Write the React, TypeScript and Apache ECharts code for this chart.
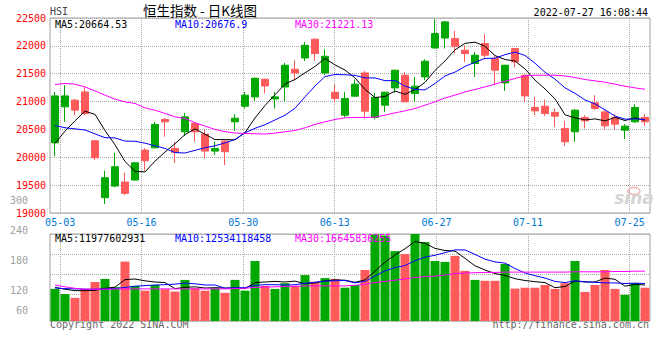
import React, { useEffect, useRef } from 'react';
import * as echarts from 'echarts';

const dates = ['04-29','05-03','05-04','05-05','05-06','05-10','05-11','05-12','05-13','05-16','05-17','05-18','05-19','05-20','05-23','05-24','05-25','05-26','05-27','05-30','05-31','06-01','06-02','06-06','06-07','06-08','06-09','06-10','06-13','06-14','06-15','06-16','06-17','06-20','06-21','06-22','06-23','06-24','06-27','06-28','06-29','06-30','07-04','07-05','07-06','07-07','07-08','07-11','07-12','07-13','07-14','07-15','07-18','07-19','07-20','07-21','07-22','07-25','07-26','07-27'];

const opens = [20260,20905,21025,21174,20296,19274,19484,19555,19591,20129,20170,20679,20159,20457,20607,20416,20111,20290,20636,20917,21084,21401,21048,21263,21580,21783,22118,21514,21168,20756,21097,21514,20715,20935,21245,21473,21145,21443,21962,22141,22130,21921,21683,22041,21772,21335,21951,21473,20894,20917,20805,20518,20457,20715,20977,20815,20715,20487,20636,20715];
const closes = [21102,21102,20846,20787,19991,19633,19830,19353,19901,19937,20590,20636,20088,20726,20457,20111,20159,20099,20702,21114,21419,21281,21084,21652,21514,22010,21862,21813,21055,21055,21312,20828,21073,21168,21563,20995,21276,21724,22220,22430,21992,21862,21832,21832,21563,21652,21711,21102,20833,20787,20738,20278,20846,20654,20876,20564,20595,20559,20894,20636];
const lows = [20021,20636,20756,20756,19950,19161,19461,19323,19591,19758,20160,20367,19901,20380,20278,19980,20039,19860,20475,20876,21012,21145,20876,21012,21383,21729,21729,21473,20977,20715,21090,20697,20679,20815,21156,20990,20995,21383,21950,21951,21862,21711,21443,21790,21294,21192,21611,20995,20756,20738,20547,20201,20278,20518,20846,20505,20487,20326,20618,20559];
const highs = [21174,21294,21048,21263,20308,19758,20081,19722,19914,20165,20636,20708,20278,20797,20636,20500,20278,20300,20774,21174,21430,21410,21174,21693,21742,22070,22136,21939,21312,21174,21396,21550,21156,21175,21570,21527,21443,21760,22480,22445,22270,22010,21891,22208,21832,21660,21960,21480,21084,21037,20876,20654,20864,20756,21115,20846,20774,20595,20953,20774];

const ma5 = [20250,20469,20656,20826,20771,20479,20224,19926,19747,19737,19931,20095,20243,20407,20511,20413,20318,20317,20313,20444,20705,20929,21123,21314,21396,21516,21630,21775,21658,21565,21424,21219,21073,21092,21190,21130,21216,21345,21558,21730,21928,22045,22067,21992,21825,21755,21728,21587,21385,21227,21049,20763,20708,20671,20689,20654,20716,20660,20709,20665];
const ma10 = [20570,20530,20510,20490,20420,20351,20347,20291,20287,20254,20205,20160,20085,20077,20124,20172,20207,20258,20320,20440,20520,20585,20670,20755,20880,21085,21280,21449,21486,21481,21470,21425,21424,21375,21378,21277,21218,21209,21325,21460,21529,21631,21706,21775,21778,21842,21887,21827,21689,21526,21402,21246,21148,21028,20958,20852,20740,20684,20690,20677];
const ma30 = [21306,21324,21312,21263,21192,21115,21043,20995,20966,20887,20846,20787,20726,20697,20620,20560,20500,20460,20435,20428,20422,20416,20434,20457,20482,20529,20590,20636,20679,20708,20715,20715,20720,20756,20797,20833,20876,20935,20995,21066,21115,21174,21217,21263,21312,21365,21414,21460,21473,21473,21473,21460,21432,21396,21371,21348,21312,21275,21245,21221];

// volume in units of 1e8 shares
const volumes = [107,90,77,107,130,140,113,198,117,101,120,106,98,137,109,101,109,94,137,101,200,117,107,126,117,153,131,143,140,111,120,170,288,285,233,223,290,263,200,197,217,167,137,134,134,190,108,111,111,120,107,126,200,97,120,170,107,87,127,111];
const volMa5 = [112,106,101,101,102,109,113,138,140,134,130,128,108,112,114,110,111,110,110,108,128,130,132,130,133,124,127,134,137,136,129,137,166,196,220,241,265,259,242,235,233,209,184,170,158,152,141,135,131,128,111,115,133,130,130,143,139,116,122,120];
const volMa10 = [110,108,107,106,106,107,108,112,116,118,120,121,123,126,124,120,120,109,111,111,119,121,121,120,121,126,129,133,134,135,127,132,150,167,178,185,201,213,219,228,237,237,222,206,197,193,175,160,151,143,132,128,134,131,129,127,127,125,126,125];
const volMa30 = [120,114,109,106,106,106,107,107,107,107,107,107,107,107,107,107,107,107,108,109,112,113,114,115,116,117,117,117,117,117,119,123,128,132,136,140,145,148,150,153,158,160,161,162,162,163,163,163,163,163,163,163,164,164,164,164,165,165,166,166];

const xLabelDates = ['05-03','05-16','05-30','06-13','06-27','07-11','07-25'];
const volTickLabels = ['300','240','180','120','60'];
const priceLegend = ['MA5:20664.53','MA10:20676.9','MA30:21221.13'];
const volLegend = ['MA5:11977602931','MA10:12534118458','MA30:16645836255'];

const MONO = '"DejaVu Sans Mono", monospace';
const UP = '#00a800';
const DOWN = '#ff5a5a';
const MA_COLORS = ['#000000', '#0000ff', '#ff00ff'];
const GRID_LINE = { color: '#a8a8a8', width: 1, type: [1, 1] as number[] };

const App = () => {
  const ref = useRef<HTMLDivElement>(null);
  useEffect(() => {
    if (!ref.current) return;
    const chart = echarts.init(ref.current, null, { renderer: 'svg' });
    const showDate = (_i: number, v: string) => xLabelDates.includes(v);
    const volLabelY = [200.5, 230.5, 260.5, 290.5, 310.5];
    const legendX = [55, 175, 295];

    const graphic: any[] = [
      { type: 'text', x: 50, y: 11, style: { text: 'HSI', fill: '#444', fontSize: 10, fontFamily: MONO, align: 'left', verticalAlign: 'middle' } },
      { type: 'text', x: 200, y: 10, style: { text: '恒生指数 - 日K线图', fill: '#000', fontSize: 13.5, fontFamily: '"Noto Sans CJK SC", sans-serif', align: 'center', verticalAlign: 'middle' } },
      { type: 'text', x: 648, y: 12, style: { text: '2022-07-27 16:08:44', fill: '#000', fontSize: 10, fontFamily: MONO, align: 'right', verticalAlign: 'middle' } },
      { type: 'text', x: 50, y: 324, style: { text: 'Copyright 2022 SINA.COM', fill: '#666', fontSize: 10, fontFamily: MONO, align: 'left', verticalAlign: 'middle' } },
      { type: 'text', x: 649, y: 324, style: { text: 'http://finance.sina.com.cn', fill: '#666', fontSize: 10, fontFamily: MONO, align: 'right', verticalAlign: 'middle' } },
      { type: 'text', x: 634, y: 198, style: { text: 'sina', fill: '#d4d4d4', fontSize: 17, fontWeight: 'bold', fontStyle: 'italic', fontFamily: '"DejaVu Sans", sans-serif', align: 'center', verticalAlign: 'middle' } },
      { type: 'ellipse', shape: { cx: 634, cy: 191, rx: 6, ry: 3.5 }, style: { fill: 'none', stroke: '#f2b4b4', lineWidth: 1.5 } },
    ];
    priceLegend.forEach((t, k) => {
      graphic.push({ type: 'text', x: legendX[k], y: 24, z: 100, style: { text: t, fill: MA_COLORS[k], fontSize: 10, fontFamily: MONO, align: 'left', verticalAlign: 'middle' } });
    });
    volLegend.forEach((t, k) => {
      graphic.push({ type: 'text', x: legendX[k], y: 238.5, z: 100, style: { text: t, fill: MA_COLORS[k], fontSize: 10, fontFamily: MONO, align: 'left', verticalAlign: 'middle' } });
    });
    volTickLabels.forEach((t, k) => {
      graphic.push({ type: 'text', x: 28, y: volLabelY[k], style: { text: t, fill: '#a0a0a0', fontSize: 10, fontFamily: MONO, align: 'right', verticalAlign: 'middle' } });
    });

    const lineSeries = (data: number[], color: string, xi: number, yi: number) => ({
      type: 'line', data, xAxisIndex: xi, yAxisIndex: yi, symbol: 'none', showSymbol: false,
      lineStyle: { width: 1, color }, z: 5, silent: true,
    });

    const option: any = {
      animation: false,
      backgroundColor: '#ffffff',
      grid: [
        { left: 50, right: 10, top: 18, height: 195, show: true, borderColor: '#a0a0a0', borderWidth: 1, backgroundColor: 'transparent' },
        { left: 50, right: 10, top: 234, height: 87, show: true, borderColor: '#a0a0a0', borderWidth: 1, backgroundColor: 'transparent' },
      ],
      xAxis: [
        { type: 'category', gridIndex: 0, data: dates, boundaryGap: true, show: false },
        {
          type: 'category', gridIndex: 0, data: dates, boundaryGap: false, position: 'bottom',
          axisLine: { show: false }, axisTick: { show: false },
          axisLabel: { interval: showDate, color: '#0078d4', fontSize: 10, fontFamily: MONO, margin: 4 },
          splitLine: { show: true, interval: showDate, lineStyle: GRID_LINE },
        },
        { type: 'category', gridIndex: 1, data: dates, boundaryGap: true, show: false },
        {
          type: 'category', gridIndex: 1, data: dates, boundaryGap: false,
          axisLine: { show: false }, axisTick: { show: false }, axisLabel: { show: false },
          splitLine: { show: true, interval: showDate, lineStyle: GRID_LINE },
        },
      ],
      yAxis: [
        {
          type: 'value', gridIndex: 0, min: 19000, max: 22500, interval: 500,
          axisLine: { show: false }, axisTick: { show: false },
          axisLabel: { color: '#ff0000', fontSize: 10, fontFamily: MONO, margin: 4, formatter: (v: number) => String(v) },
          splitLine: { show: true, lineStyle: GRID_LINE },
        },
        { type: 'value', gridIndex: 1, min: 0, max: 290, show: false },
        {
          type: 'value', gridIndex: 1, min: 0, max: 87, interval: 20, inverse: true,
          axisLine: { show: false }, axisTick: { show: false }, axisLabel: { show: false },
          splitLine: { show: true, lineStyle: GRID_LINE },
        },
      ],
      series: [
        {
          type: 'candlestick', xAxisIndex: 0, yAxisIndex: 0, barWidth: 8,
          data: dates.map((_, i) => [opens[i], closes[i], lows[i], highs[i]]),
          itemStyle: { color: UP, color0: DOWN, borderColor: UP, borderColor0: DOWN, borderWidth: 1 },
          z: 3, silent: true,
        },
        lineSeries(ma5, MA_COLORS[0], 0, 0),
        lineSeries(ma10, MA_COLORS[1], 0, 0),
        lineSeries(ma30, MA_COLORS[2], 0, 0),
        {
          type: 'bar', xAxisIndex: 2, yAxisIndex: 1, barWidth: 9, data: volumes, z: 3, silent: true,
          itemStyle: { color: (p: any) => (closes[p.dataIndex] >= opens[p.dataIndex] ? UP : DOWN) },
        },
        lineSeries(volMa5, MA_COLORS[0], 2, 1),
        lineSeries(volMa10, MA_COLORS[1], 2, 1),
        lineSeries(volMa30, MA_COLORS[2], 2, 1),
      ],
      graphic,
    };
    chart.setOption(option);
    return () => chart.dispose();
  }, []);
  return <div ref={ref} style={{ position: 'absolute', left: 0, top: 0, width: 660, height: 360 }} />;
};

export default App;
